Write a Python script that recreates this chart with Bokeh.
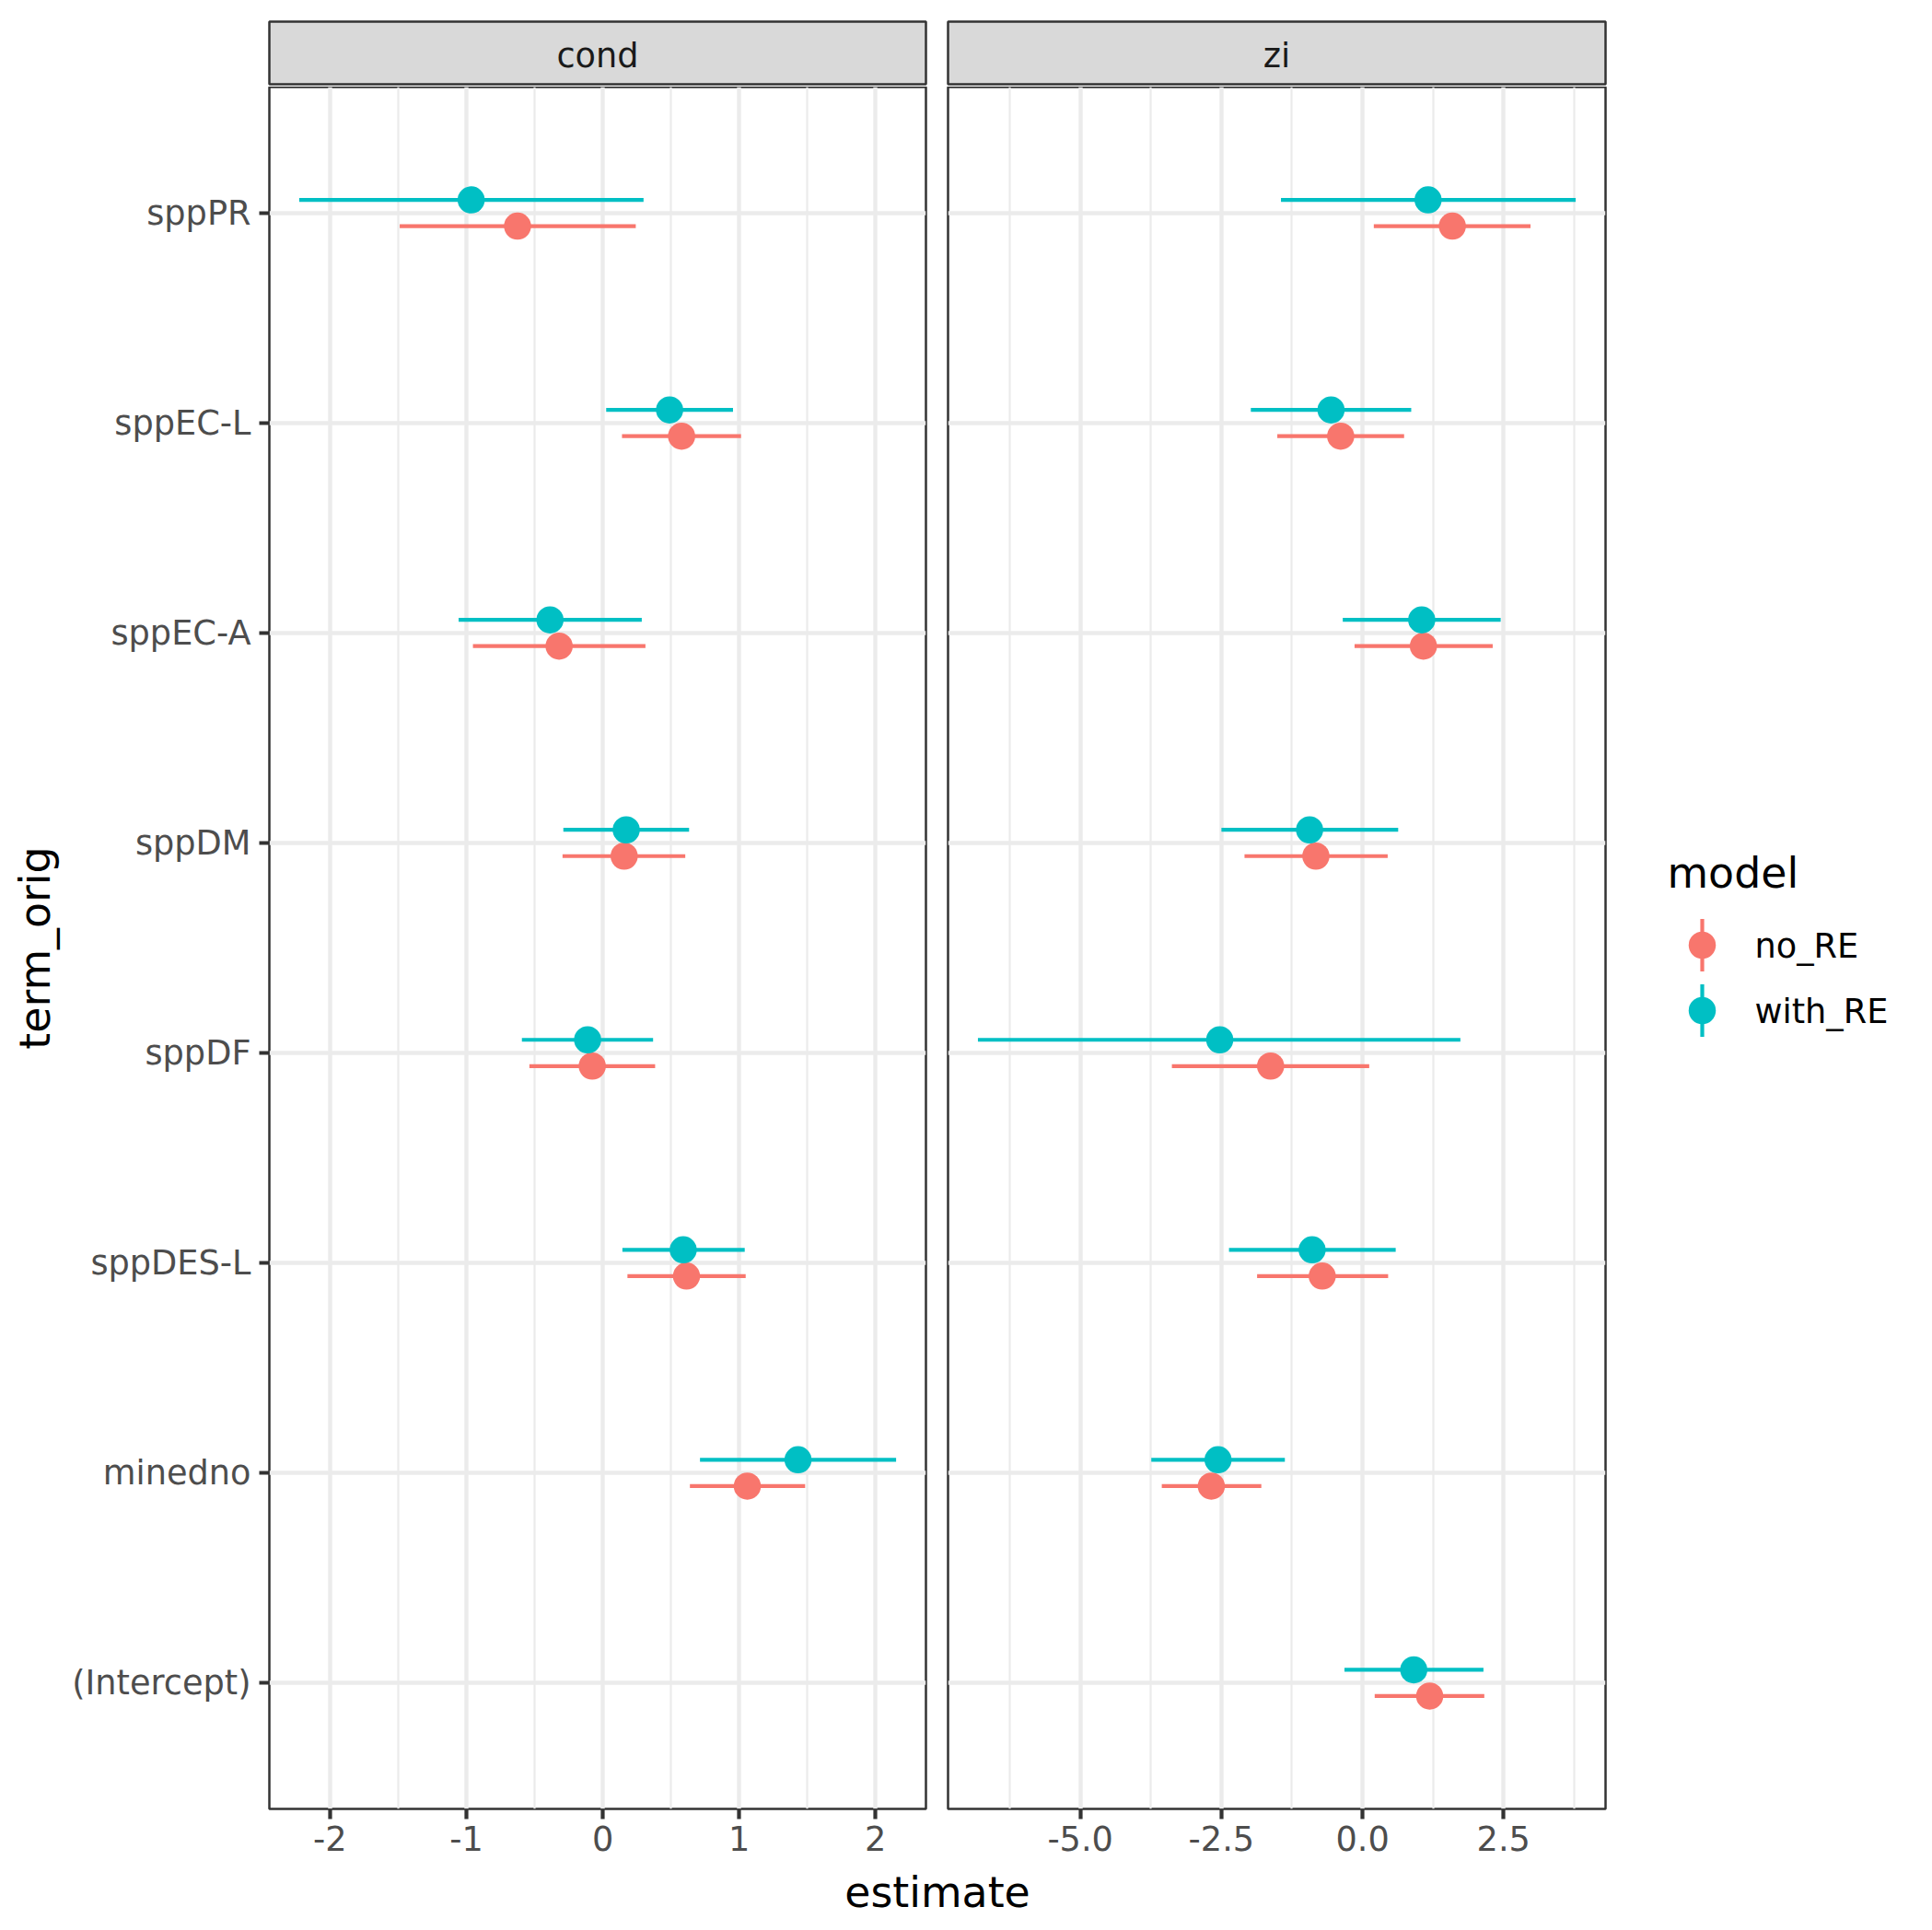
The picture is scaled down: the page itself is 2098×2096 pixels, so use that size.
from bokeh.plotting import figure
from bokeh.models import ColumnDataSource, FactorRange, Range1d, FixedTicker
from bokeh.layouts import row, column
from bokeh.transform import dodge
from bokeh.embed import file_html
from bokeh.resources import INLINE
from bokeh.core.properties import value

# ---------------- data ----------------
terms = ["(Intercept)", "minedno", "sppDES-L", "sppDF", "sppDM", "sppEC-A", "sppEC-L", "sppPR"]
models = ["no_RE", "with_RE"]
model_colors = ["#F8766D", "#00BFC4"]
components = ["cond", "zi"]

cond_terms = ["minedno", "sppDES-L", "sppDF", "sppDM", "sppEC-A", "sppEC-L", "sppPR"]
cond_noRE_est = [1.060, 0.614, -0.077, 0.157, -0.320, 0.578, -0.625]
cond_noRE_lo = [0.639, 0.181, -0.538, -0.295, -0.952, 0.141, -1.489]
cond_noRE_hi = [1.484, 1.048, 0.384, 0.605, 0.313, 1.014, 0.242]
cond_withRE_est = [1.432, 0.590, -0.111, 0.172, -0.387, 0.490, -0.965]
cond_withRE_lo = [0.713, 0.144, -0.593, -0.289, -1.057, 0.025, -2.226]
cond_withRE_hi = [2.151, 1.041, 0.369, 0.633, 0.286, 0.955, 0.299]

zi_terms = ["(Intercept)", "minedno", "sppDES-L", "sppDF", "sppDM", "sppEC-A", "sppEC-L", "sppPR"]
zi_noRE_est = [1.190, -2.679, -0.714, -1.629, -0.826, 1.079, -0.387, 1.592]
zi_noRE_lo = [0.216, -3.557, -1.868, -3.378, -2.091, -0.141, -1.510, 0.200]
zi_noRE_hi = [2.158, -1.793, 0.454, 0.119, 0.446, 2.307, 0.737, 2.977]
zi_withRE_est = [0.908, -2.560, -0.893, -2.530, -0.938, 1.049, -0.558, 1.162]
zi_withRE_lo = [-0.320, -3.743, -2.366, -6.815, -2.500, -0.350, -1.979, -1.445]
zi_withRE_hi = [2.143, -1.376, 0.588, 1.734, 0.632, 2.448, 0.863, 3.777]

cond_ticks = [-2, -1, 0, 1, 2]
cond_tick_labels = ["-2", "-1", "0", "1", "2"]
cond_minor = [-1.5, -0.5, 0.5, 1.5]
zi_ticks = [-5.0, -2.5, 0.0, 2.5]
zi_tick_labels = ["-5.0", "-2.5", "0.0", "2.5"]
zi_minor = [-6.25, -3.75, -1.25, 1.25, 3.75]

x_title = "estimate"
y_title = "term_orig"
legend_title = "model"

# ---------------- style ----------------
FONT = "DejaVu Sans"
SMALL = "36.7px"
BIG = "45.8px"
GRID = "#EBEBEB"
DARK = "#333333"
STRIP_H = 94
FRAME_H = 1870
PANEL_H = 1932
XLAB_H = 70
W1, W2, WL = 1017, 738, 343
DODGE_W = 0.125

panel_data = {
    "cond": dict(terms=cond_terms,
                 series=[(cond_noRE_est, cond_noRE_lo, cond_noRE_hi),
                         (cond_withRE_est, cond_withRE_lo, cond_withRE_hi)],
                 ticks=cond_ticks, labels=cond_tick_labels, minor=cond_minor),
    "zi": dict(terms=zi_terms,
               series=[(zi_noRE_est, zi_noRE_lo, zi_noRE_hi),
                       (zi_withRE_est, zi_withRE_lo, zi_withRE_hi)],
               ticks=zi_ticks, labels=zi_tick_labels, minor=zi_minor),
}


def base_fig(**kw):
    return figure(output_backend="svg", toolbar_location=None,
                  background_fill_color="white", border_fill_color="white", **kw)


def make_strip(comp, width, left, right):
    s = base_fig(width=width, height=STRIP_H,
                 x_range=FactorRange(factors=[comp]), y_range=FactorRange(factors=[comp]),
                 x_axis_location=None, y_axis_location=None,
                 min_border_left=left, min_border_right=right,
                 min_border_top=23, min_border_bottom=3,
                 outline_line_color=DARK, outline_line_width=2.5)
    s.background_fill_color = "#D9D9D9"
    s.xgrid.grid_line_color = None
    s.ygrid.grid_line_color = None
    s.text(x=[comp], y=[comp], text=[comp], text_align="center", text_baseline="middle",
           y_offset=3, text_font=value(FONT), text_font_size=SMALL, text_color="#1A1A1A")
    return s


def make_panel(comp, width, left, right, show_y):
    d = panel_data[comp]
    lows = [v for ser in d["series"] for v in ser[1]]
    highs = [v for ser in d["series"] for v in ser[2]]
    lo, hi = min(lows), max(highs)
    pad = 0.05 * (hi - lo)
    p = base_fig(width=width, height=PANEL_H,
                 x_range=Range1d(lo - pad, hi + pad),
                 y_range=FactorRange(factors=terms, range_padding=0.1,
                                     range_padding_units="absolute"),
                 min_border_left=left, min_border_right=right,
                 min_border_top=0, min_border_bottom=PANEL_H - FRAME_H,
                 outline_line_color=DARK, outline_line_width=2.5)
    # x axis
    p.xaxis.ticker = FixedTicker(ticks=d["ticks"], minor_ticks=d["minor"])
    p.xaxis.major_label_overrides = {t: l for t, l in zip(d["ticks"], d["labels"])}
    p.xaxis.axis_line_color = None
    p.xaxis.major_tick_line_color = DARK
    p.xaxis.major_tick_line_width = 4.2
    p.xaxis.major_tick_out = 11
    p.xaxis.major_tick_in = 0
    p.xaxis.minor_tick_line_color = None
    p.xaxis.major_label_standoff = 7
    p.xaxis.major_label_text_font = FONT
    p.xaxis.major_label_text_font_size = SMALL
    p.xaxis.major_label_text_color = "#4D4D4D"
    # y axis
    p.yaxis.axis_line_color = None
    p.yaxis.major_tick_line_color = DARK
    p.yaxis.major_tick_line_width = 4.2
    p.yaxis.major_tick_out = 11
    p.yaxis.major_tick_in = 0
    p.yaxis.major_label_standoff = 9
    p.yaxis.major_label_text_font = FONT
    p.yaxis.major_label_text_font_size = SMALL
    p.yaxis.major_label_text_color = "#4D4D4D"
    if show_y:
        p.yaxis.axis_label = y_title
        p.yaxis.axis_label_text_font = FONT
        p.yaxis.axis_label_text_font_size = BIG
        p.yaxis.axis_label_text_font_style = "normal"
        p.yaxis.axis_label_text_color = "black"
        p.yaxis.axis_label_standoff = 10
    else:
        p.yaxis.visible = False
    # grids
    p.xgrid.grid_line_color = GRID
    p.xgrid.grid_line_width = 4.4
    p.xgrid.minor_grid_line_color = GRID
    p.xgrid.minor_grid_line_width = 2.2
    p.ygrid.grid_line_color = GRID
    p.ygrid.grid_line_width = 4.4

    n = len(models)
    layers = []
    for i, (m, c) in enumerate(zip(models, model_colors)):
        est, lo_, hi_ = d["series"][i]
        src = ColumnDataSource(dict(term=d["terms"], est=est, lo=lo_, hi=hi_,
                                    model=[m] * len(est)))
        off = (i - (n - 1) / 2) * DODGE_W
        layers.append((src, off, c))
        p.segment(x0="lo", x1="hi",
                  y0=dodge("term", off, range=p.y_range),
                  y1=dodge("term", off, range=p.y_range),
                  source=src, line_color=c, line_width=4.2)
    for src, off, c in layers:
        p.scatter(x="est", y=dodge("term", off, range=p.y_range), source=src,
                  size=29.5, fill_color=c, line_color=None)
    return p


strip1 = make_strip(components[0], W1, 292, 12)
strip2 = make_strip(components[1], W2, 12, 12)
panel1 = make_panel(components[0], W1, 292, 12, True)
panel2 = make_panel(components[1], W2, 12, 12, False)

# shared x-axis title
xfig = base_fig(width=W1 + W2, height=XLAB_H,
                x_range=FactorRange(factors=[x_title]), y_range=FactorRange(factors=[x_title]),
                x_axis_location=None, y_axis_location=None,
                min_border_left=292, min_border_right=12, min_border_top=0, min_border_bottom=0,
                outline_line_color=None)
xfig.xgrid.grid_line_color = None
xfig.ygrid.grid_line_color = None
xfig.text(x=[x_title], y=[x_title], text=[x_title], text_align="center", text_baseline="middle",
          y_offset=-7, text_font=value(FONT), text_font_size=BIG, text_color="black")

# legend figure (coordinates in page pixels)
TOTAL_H = STRIP_H + PANEL_H + XLAB_H
X0 = W1 + W2
lfig = base_fig(width=WL, height=TOTAL_H,
                x_range=Range1d(X0, X0 + WL), y_range=Range1d(TOTAL_H, 0),
                x_axis_location=None, y_axis_location=None,
                min_border_left=0, min_border_right=0, min_border_top=0, min_border_bottom=0,
                outline_line_color=None)
lfig.xgrid.grid_line_color = None
lfig.ygrid.grid_line_color = None
key_x = 1848
key_y0 = 1026
key_step = 71
key_half = 28.5
ly = [key_y0 + i * key_step for i in range(len(models))]
lsrc = ColumnDataSource(dict(x=[key_x] * len(models), y=ly,
                             y0=[v - key_half for v in ly], y1=[v + key_half for v in ly],
                             color=model_colors, label=models,
                             tx=[key_x + 57] * len(models)))
lfig.segment(x0="x", x1="x", y0="y0", y1="y1", line_color="color", line_width=4.2, source=lsrc)
lfig.scatter(x="x", y="y", size=29.5, fill_color="color", line_color=None, source=lsrc)
lfig.text(x="tx", y="y", text="label", text_font=value(FONT), text_font_size=SMALL,
          text_color="black", text_baseline="middle", text_align="left", y_offset=1, source=lsrc)
lfig.text(x=[1810], y=[947], text=[legend_title], text_font=value(FONT), text_font_size=BIG,
          text_color="black", text_baseline="alphabetic", text_align="left")

layout = row(column(row(strip1, strip2), row(panel1, panel2), xfig), lfig)

open("out.html", "w").write(file_html(layout, INLINE))
